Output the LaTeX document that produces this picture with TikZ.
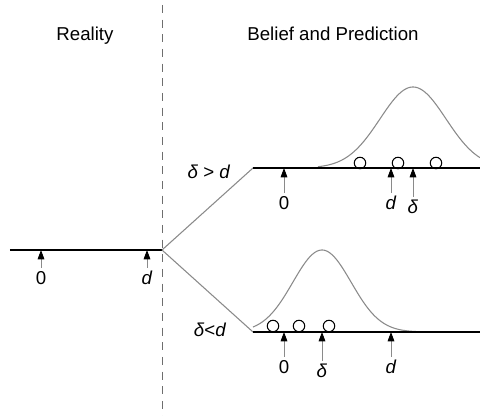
\documentclass[tikz,border=0pt]{standalone}
\usepackage{fontspec}
\setmainfont{Liberation Sans}
\usetikzlibrary{arrows.meta}
\definecolor{BPLine}{HTML}{8A8A8A}
\definecolor{BPDash}{HTML}{6E6E6E}

\begin{document}
\begin{tikzpicture}[x=0.75pt,y=-0.75pt,
  axis/.style={line width=2pt,black},
  branch/.style={BPLine,line width=0.8pt},
  curve/.style={BPLine,line width=0.8pt},
  tick/.style={BPLine,line width=0.7pt,shorten <=1.5pt,-{Triangle[length=7pt,width=5pt,black]}},
  obs/.style={circle,draw=black,line width=0.8pt,minimum size=8.6pt,inner sep=0pt},
  lbl/.style={font=\fontsize{14}{16}\selectfont,inner sep=1pt}]
\path[use as bounding box] (0,0) rectangle (480,416);
% headings and divider
\node[lbl] (reality) at (85,36) {Reality};
\node[lbl] (belief) at (333,34) {Belief and Prediction};
\draw[BPDash,line width=0.7pt,dash pattern=on 6pt off 5pt] (162,5) -- (162,416);
% reality
\coordinate (rl) at (10,250);
\coordinate (fork) at (162,250);
\draw[axis] (rl) -- (fork);
\node[lbl] (r0) at (41,278) {0};
\node[lbl] (rd) at (147,278) {\textit{d}};
\draw[tick] (r0.north) -- (r0.north |- fork);
\draw[tick] (rd.north) -- (rd.north |- fork);
% upper branch
\coordinate (ul) at (253,168);
\coordinate (ur) at (480,168);
\draw[branch] (fork) -- (ul);
\node[lbl] (uc) at (209,172) {\textit{δ} > \textit{d}};
\draw[curve] plot[domain=318:480,samples=90] (\x,{168-81*exp(-((\x-413)^2)/2178)});
\draw[axis] (ul) -- (ur);
\node[obs] (uo1) at (360,163) {};
\node[obs] (uo2) at (398,163) {};
\node[obs] (uo3) at (436,163) {};
\node[lbl] (u0) at (284,203) {0};
\node[lbl] (ud) at (391,203) {\textit{d}};
\node[lbl] (ut) at (413,207) {\textit{δ}};
\draw[tick] (u0.north) -- (u0.north |- ul);
\draw[tick] (ud.north) -- (ud.north |- ul);
\draw[tick] (ut.north) -- (ut.north |- ul);
% lower branch
\coordinate (ll) at (253,332);
\coordinate (lr) at (480,332);
\draw[branch] (fork) -- (ll);
\node[lbl] (lc) at (210,330) {\textit{δ}<\textit{d}};
\draw[curve] plot[domain=253:420,samples=90] (\x,{332-82*exp(-((\x-322)^2)/1700)});
\draw[axis] (ll) -- (lr);
\node[obs] (lo1) at (273,326) {};
\node[obs] (lo2) at (299,326) {};
\node[obs] (lo3) at (329,326) {};
\node[lbl] (l0) at (284,367) {0};
\node[lbl] (lt) at (322,371) {\textit{δ}};
\node[lbl] (ld) at (391,367) {\textit{d}};
\draw[tick] (l0.north) -- (l0.north |- ll);
\draw[tick] (lt.north) -- (lt.north |- ll);
\draw[tick] (ld.north) -- (ld.north |- ll);
\end{tikzpicture}
\end{document}
